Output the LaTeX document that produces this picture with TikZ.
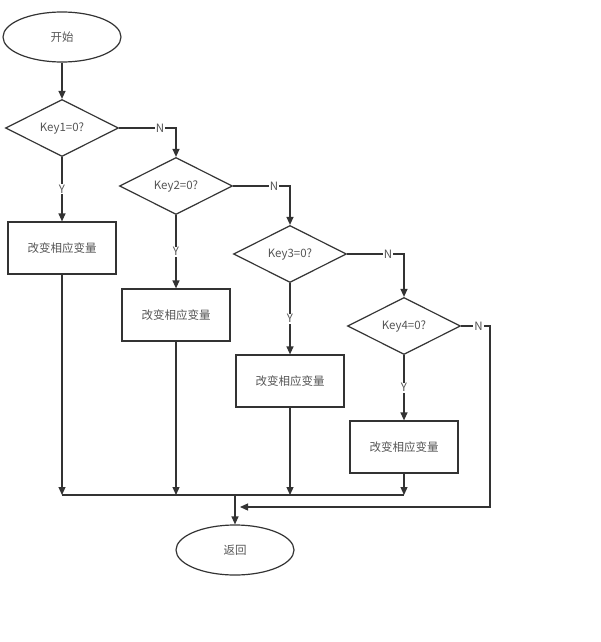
\documentclass[tikz,border=0pt]{standalone}
\usepackage{fontspec}
\setmainfont{Noto Sans CJK SC}
\usetikzlibrary{shapes.geometric,arrows.meta}
\definecolor{ln}{HTML}{333333}
\definecolor{tx}{HTML}{555555}
\begin{document}
\begin{tikzpicture}[x=1pt,y=-1pt,
  every node/.style={text=tx,font=\fontsize{11.5}{13}\selectfont},
  term/.style={ellipse,draw=ln,line width=1.2pt,minimum width=118pt,minimum height=50pt,inner sep=0pt},
  cond/.style={diamond,draw=ln,line width=1.2pt,minimum width=113pt,minimum height=57pt,inner sep=0pt},
  proc/.style={rectangle,draw=ln,line width=1.2pt,minimum width=108pt,minimum height=52pt,inner sep=0pt},
  arr/.style={draw=ln,line width=1.2pt,-{Triangle[length=8pt,width=7pt]}},
  wire/.style={draw=ln,line width=1.2pt},
  lbl/.style={fill=white,inner sep=1pt}]
\useasboundingbox (0,0) rectangle (601,642);
\node[term] (start) at (62,37) {开始};
\node[cond] (d1) at (62,128) {Key1=0?};
\node[proc] (b1) at (62,248) {改变相应变量};
\node[cond] (d2) at (176,186) {Key2=0?};
\node[proc] (b2) at (176,315) {改变相应变量};
\node[cond] (d3) at (290,254) {Key3=0?};
\node[proc] (b3) at (290,381) {改变相应变量};
\node[cond] (d4) at (404,326) {Key4=0?};
\node[proc] (b4) at (404,447) {改变相应变量};
\node[term] (end) at (235,550) {返回};
\coordinate (m) at (235,495);
\coordinate (r) at (490,326);
\coordinate (q) at (240,507);

\draw[arr] (start) -- (d1);
\draw[arr] (d1.east) -- node[lbl,pos=0.72]{N} (d1.east -| d2.north) -- (d2.north);
\draw[arr] (d2.east) -- node[lbl,pos=0.72]{N} (d2.east -| d3.north) -- (d3.north);
\draw[arr] (d3.east) -- node[lbl,pos=0.72]{N} (d3.east -| d4.north) -- (d4.north);
\draw[arr] (d1.south) -- node[lbl]{Y} (b1.north);
\draw[arr] (d2.south) -- node[lbl]{Y} (b2.north);
\draw[arr] (d3.south) -- node[lbl]{Y} (b3.north);
\draw[arr] (d4.south) -- node[lbl]{Y} (b4.north);
\draw[arr] (b1.south) -- (b1.south |- m);
\draw[arr] (b2.south) -- (b2.south |- m);
\draw[arr] (b3.south) -- (b3.south |- m);
\draw[arr] (b4.south) -- (b4.south |- m);
\draw[wire] (b1.south |- m) -- (b4.south |- m);
\draw[arr] (m) -- (end.north);
\draw[arr] (d4.east) -- node[lbl,pos=0.6]{N} (r) -- (r |- q) -- (q);
\end{tikzpicture}
\end{document}
